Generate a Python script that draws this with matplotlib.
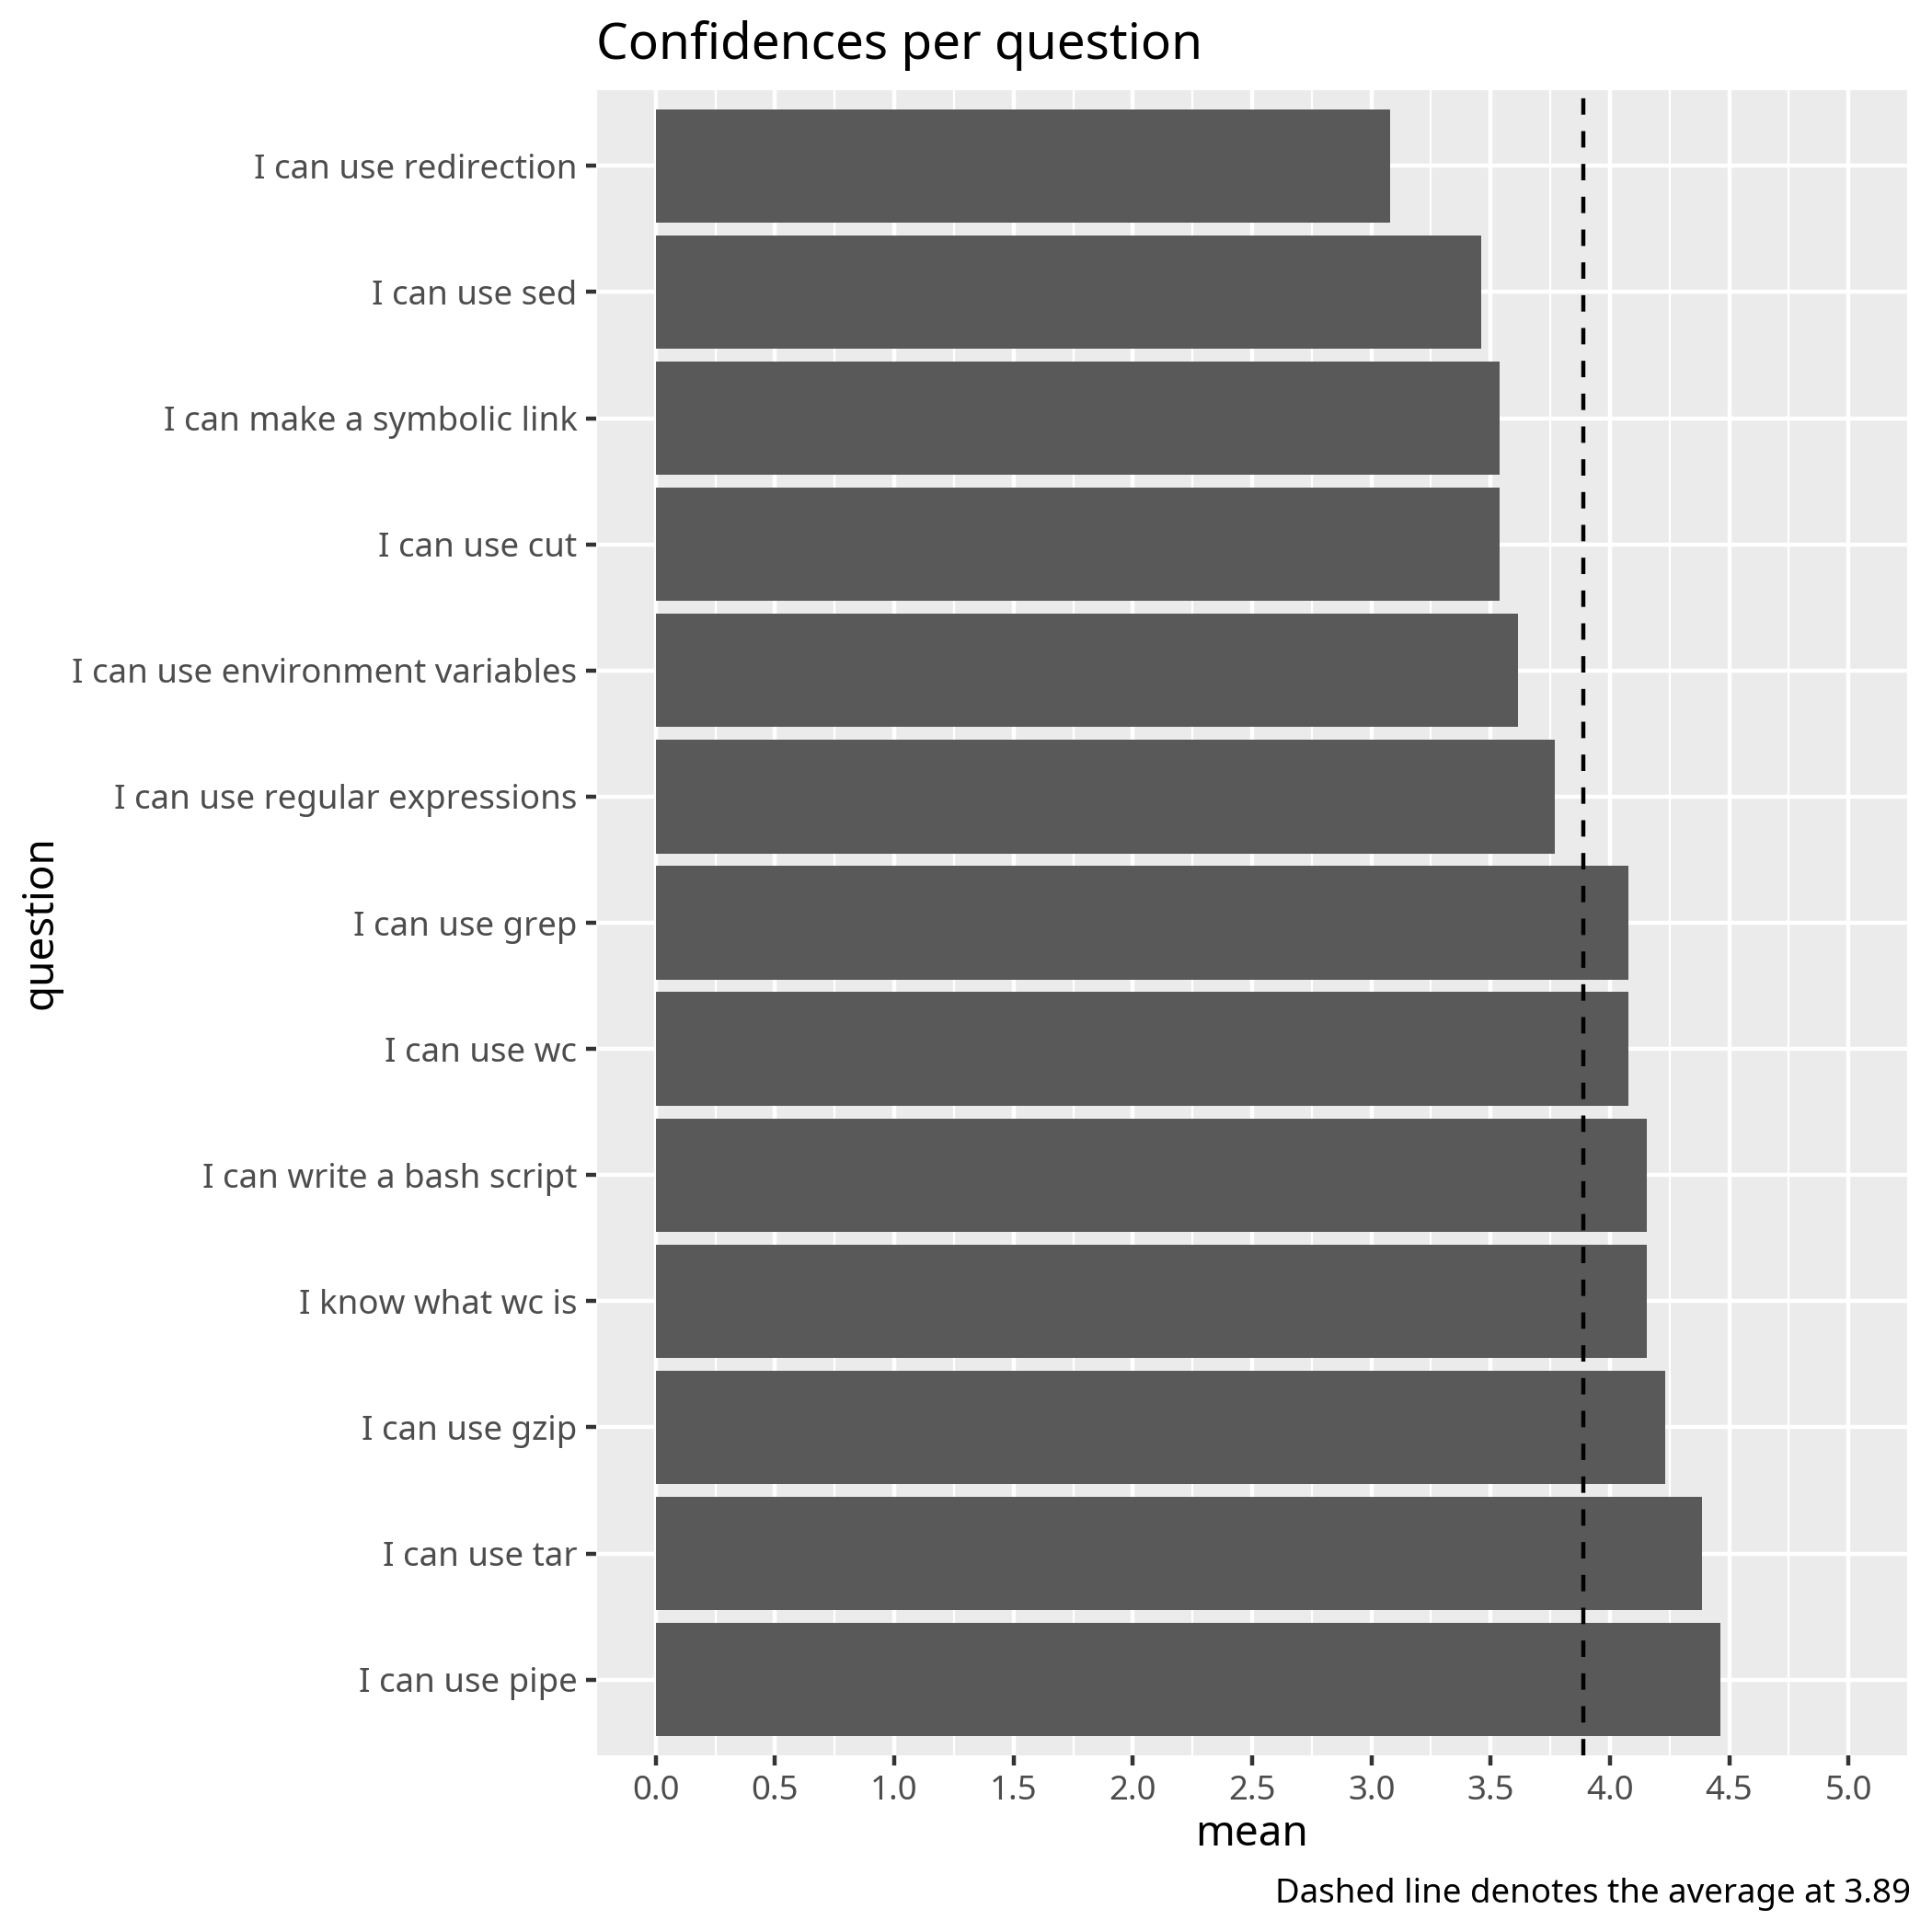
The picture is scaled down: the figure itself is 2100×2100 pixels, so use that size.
import numpy as np
import matplotlib.pyplot as plt
from matplotlib.ticker import MultipleLocator

# data, listed top to bottom as shown in the chart
questions = [
    'I can use redirection',
    'I can use sed',
    'I can make a symbolic link',
    'I can use cut',
    'I can use environment variables',
    'I can use regular expressions',
    'I can use grep',
    'I can use wc',
    'I can write a bash script',
    'I know what wc is',
    'I can use gzip',
    'I can use tar',
    'I can use pipe',
]
means = [3.077, 3.462, 3.538, 3.538, 3.615, 3.769, 4.077, 4.077,
         4.154, 4.154, 4.231, 4.385, 4.462]
x_ticks = [0.0, 0.5, 1.0, 1.5, 2.0, 2.5, 3.0, 3.5, 4.0, 4.5, 5.0]

average = np.mean(means)

plt.rcParams['font.family'] = ['Noto Sans', 'DejaVu Sans']

W = H = 2100
DPI = 300
fig = plt.figure(figsize=(W / DPI, H / DPI), dpi=DPI)

# panel in pixel coords -> figure fractions
left, right, top, bottom = 648, 2074, 98, 1908
ax = fig.add_axes([left / W, 1 - bottom / H, (right - left) / W, (bottom - top) / H])

ax.set_facecolor('#EBEBEB')
for s in ax.spines.values():
    s.set_visible(False)
ax.set_axisbelow(True)

# grid (ggplot-like)
lw_major = 1.07
ax.xaxis.set_minor_locator(MultipleLocator(0.25))
ax.grid(which='major', color='white', linewidth=lw_major)
ax.grid(which='minor', axis='x', color='white', linewidth=lw_major / 2)

ypos = np.arange(len(questions))
ax.barh(ypos, means, height=0.9, color='#595959', zorder=2)
# ggplot "dashed" = 4 on / 4 off in line widths
ax.axvline(average, color='black', linewidth=lw_major, linestyle=(0, (4, 4)), zorder=3)

ax.set_xlim(-0.25, 5.25)
ax.set_ylim(len(questions) - 1 + 0.6, -0.6)
ax.set_xticks(x_ticks)
ax.set_xticklabels([f'{t:.1f}' for t in x_ticks])
ax.set_yticks(ypos)
ax.set_yticklabels(questions)

ax.tick_params(which='major', length=2.75, width=lw_major, color='#333333',
               labelsize=8.8, labelcolor='#4D4D4D', pad=2.2)
ax.tick_params(which='minor', length=0)

# titles and caption placed by baseline pixel positions
fig.text(left / W, 1 - 64 / H, 'Confidences per question', fontsize=13.2,
         ha='left', va='baseline', color='black')
fig.text((left + right) / 2 / W, 1 - 2006 / H, 'mean', fontsize=11,
         ha='center', va='baseline', color='black')
fig.text(57 / W, 1 - (top + bottom) / 2 / H, 'question', fontsize=11, rotation=90,
         rotation_mode='anchor', ha='center', va='baseline', color='black')
fig.text(2077 / W, 1 - 2068 / H, f'Dashed line denotes the average at {average:.2f}',
         fontsize=8.8, ha='right', va='baseline', color='black')

fig.savefig('out.png', dpi=DPI, facecolor='white')
